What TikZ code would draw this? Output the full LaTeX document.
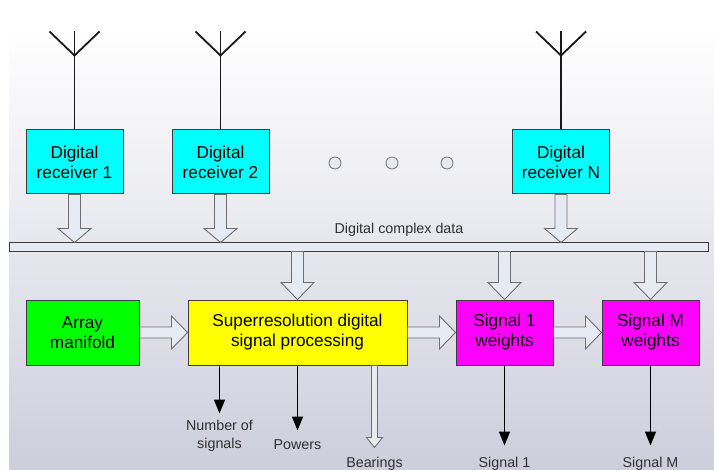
\documentclass[tikz,border=0pt]{standalone}
\usepackage{fontspec}
\setmainfont{Liberation Sans}
\usetikzlibrary{arrows.meta,calc}

\definecolor{boxline}{HTML}{3C3C3C}
\definecolor{hollowfill}{HTML}{E6EAF3}
\definecolor{hollowline}{HTML}{6E6E6E}
\definecolor{bgbottom}{HTML}{CDCEDC}
\definecolor{labeltext}{HTML}{303030}
\definecolor{rxcyan}{HTML}{00FFFF}
\definecolor{wmagenta}{HTML}{FF00FF}
\definecolor{mgreen}{HTML}{00FF00}
\definecolor{syellow}{HTML}{FFFF00}

\tikzset{
  block/.style={draw=boxline, line width=1pt, inner sep=0pt, align=center,
    font=\fontsize{17.2}{20}\selectfont, text=black},
  rxbox/.style={block, fill=rxcyan, minimum width=97pt, minimum height=64pt},
  hollow/.style={draw=hollowline, fill=hollowfill, line width=0.9pt, line join=miter},
  antenna/.style={draw=black!90, line width=1.8pt},
  outarrow/.style={draw=black, line width=1.6pt, -{Triangle[length=14pt,width=11pt]}},
  outlabel/.style={font=\fontsize{14.3}{18}\selectfont, text=labeltext, align=center, inner sep=0pt},
  dotmark/.style={draw=gray, fill=hollowfill, line width=0.9pt}
}

% block arrow pointing down: start, end, shaft half-width, head half-width, head length
\newcommand\hollowdown[5]{%
  \path[hollow] let \p1=(#1), \p2=(#2) in
    ({\x1-#3},\y1) -- ({\x1-#3},{\y2+#5}) -- ({\x1-#4},{\y2+#5}) -- (\x1,\y2)
    -- ({\x1+#4},{\y2+#5}) -- ({\x1+#3},{\y2+#5}) -- ({\x1+#3},\y1) -- cycle;}
% block arrow pointing right: start, end, shaft half-height, head half-height, head length
\newcommand\hollowright[5]{%
  \path[hollow] let \p1=(#1), \p2=(#2) in
    (\x1,{\y1+#3}) -- ({\x2-#5},{\y1+#3}) -- ({\x2-#5},{\y1+#4}) -- (\x2,\y1)
    -- ({\x2-#5},{\y1-#4}) -- ({\x2-#5},{\y1-#3}) -- (\x1,{\y1-#3}) -- cycle;}

\begin{document}
\begin{tikzpicture}[x=1pt, y=-1pt]
  \useasboundingbox (0,0) rectangle (714,470);
  \fill[white] (0,0) rectangle (714,470);
  \shade[top color=white, bottom color=bgbottom] (9,28) rectangle (714,470);

  % receivers
  \node[rxbox] (r1) at (74.5,162) {Digital\\receiver 1};
  \node[rxbox] (r2) at (220.5,162) {Digital\\receiver 2};
  \node[rxbox] (rN) at (561,162) {Digital\\receiver N};

  % antennas
  \foreach \r in {r1,r2,rN}{
    \coordinate (\r-tip) at ($(\r.north)+(0,-98)$);
    \coordinate (\r-fork) at ($(\r.north)+(0,-74)$);
    \draw[antenna] (\r.north) -- (\r-tip);
    \draw[antenna] ($(\r-tip)+(-25,0)$) -- (\r-fork) -- ($(\r-tip)+(25,0)$);
  }

  % ellipsis between receivers
  \foreach \cx in {335,392,447}
    \draw[dotmark] (\cx,163) circle (6pt);

  % data bus
  \node[draw=boxline, fill=hollowfill, line width=1pt, inner sep=0pt,
        minimum width=699pt, minimum height=8pt] (bus) at (358.5,247) {};
  \node[outlabel] (buslabel) at (399,230) {Digital complex data};

  % processing blocks
  \node[block, fill=mgreen, minimum width=113pt, minimum height=65pt] (man) at (82.5,332.5) {Array\\manifold};
  \node[block, fill=syellow, minimum width=219pt, minimum height=65pt] (sup) at (297.5,332.5) {Superresolution digital\\signal processing};
  \node[block, fill=wmagenta, minimum width=97pt, minimum height=65pt] (w1) at (504.5,332.5) {Signal 1\\weights};
  \node[block, fill=wmagenta, minimum width=97pt, minimum height=65pt] (wM) at (650.5,332.5) {Signal M\\weights};

  % receivers into the bus
  \hollowdown{r1.south}{r1.south |- bus.north}{6pt}{16.5pt}{14pt}
  \hollowdown{r2.south}{r2.south |- bus.north}{6pt}{16.5pt}{14pt}
  \hollowdown{rN.south}{rN.south |- bus.north}{6pt}{16.5pt}{14pt}

  % bus into processing blocks
  \hollowdown{sup.north |- bus.south}{sup.north}{6pt}{16.5pt}{17pt}
  \hollowdown{w1.north |- bus.south}{w1.north}{6pt}{16.5pt}{17pt}
  \hollowdown{wM.north |- bus.south}{wM.north}{6pt}{16.5pt}{17pt}

  % chain between blocks
  \hollowright{man.east}{sup.west}{5.5pt}{16.5pt}{16pt}
  \hollowright{sup.east}{w1.west}{5.5pt}{16.5pt}{16pt}
  \hollowright{w1.east}{wM.west}{5.5pt}{16.5pt}{16pt}

  % outputs
  \coordinate (numtop) at ($(sup.south west)+(32,0)$);
  \coordinate (beartop) at ($(sup.south west)+(187,0)$);
  \coordinate (numend) at ($(numtop)+(0,48)$);
  \coordinate (powend) at ($(sup.south)+(0,65)$);
  \coordinate (bearend) at ($(beartop)+(0,82)$);
  \coordinate (s1end) at ($(w1.south)+(0,80)$);
  \coordinate (sMend) at ($(wM.south)+(0,80)$);

  \draw[outarrow] (numtop) -- (numend);
  \draw[outarrow] (sup.south) -- (powend);
  \hollowdown{beartop}{bearend}{3pt}{8pt}{10pt}
  \draw[outarrow] (w1.south) -- (s1end);
  \draw[outarrow] (wM.south) -- (sMend);

  \node[outlabel, anchor=north] (numlabel) at ($(numend)+(0,6)$) {Number of\\signals};
  \node[outlabel, anchor=north] (powlabel) at ($(powend)+(0,9)$) {Powers};
  \node[outlabel, anchor=north] (bearlabel) at ($(bearend)+(0,9)$) {Bearings};
  \node[outlabel, anchor=north] (s1label) at ($(s1end)+(0,11)$) {Signal 1};
  \node[outlabel, anchor=north] (sMlabel) at ($(sMend)+(0,11)$) {Signal M};
\end{tikzpicture}
\end{document}
